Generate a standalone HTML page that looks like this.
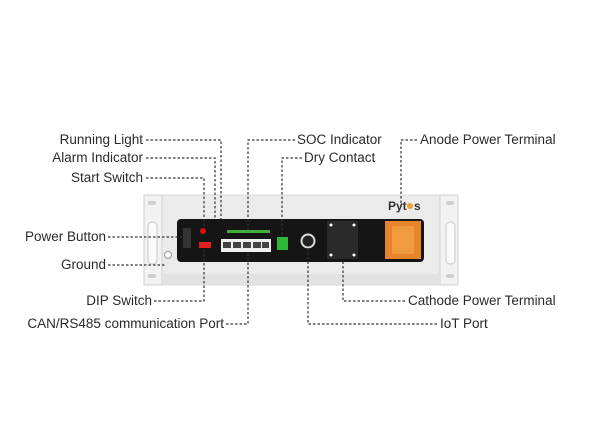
<!DOCTYPE html>
<html><head><style>
html,body{margin:0;padding:0;background:#fff;width:600px;height:448px;overflow:hidden}
svg{display:block}
text{font-family:"Liberation Sans",Arial,sans-serif;font-size:13.5px;fill:#2a2a2a}
.d{stroke:#333;stroke-width:1.2;stroke-dasharray:2.5 2;fill:none}
</style></head><body>
<svg width="600" height="448" viewBox="0 0 600 448">
<rect x="144" y="195" width="314" height="90" fill="#ebebeb" stroke="#d8d8d8"/>
<rect x="144" y="195" width="18" height="90" fill="#f2f2f2" stroke="#d0d0d0"/>
<rect x="440" y="195" width="18" height="90" fill="#f2f2f2" stroke="#d0d0d0"/>
<rect x="148" y="201" width="8" height="4" rx="2" fill="#cfcfcf"/>
<rect x="148" y="274" width="8" height="4" rx="2" fill="#cfcfcf"/>
<rect x="446" y="201" width="8" height="4" rx="2" fill="#cfcfcf"/>
<rect x="446" y="274" width="8" height="4" rx="2" fill="#cfcfcf"/>
<rect x="148" y="222" width="9" height="42" rx="4" fill="#fafafa" stroke="#c8c8c8"/>
<rect x="446" y="222" width="9" height="42" rx="4" fill="#fafafa" stroke="#c8c8c8"/>
<rect x="162" y="274" width="278" height="10" fill="#e2e2e2"/>
<circle cx="168" cy="255" r="3.5" fill="#fff" stroke="#999"/>
<text x="388" y="210" style="font-size:12px;font-weight:bold;fill:#333">Pyt</text>
<circle cx="410" cy="206" r="3" fill="#e8a23c"/>
<text x="414" y="210" style="font-size:12px;font-weight:bold;fill:#333">s</text>
<rect x="177" y="219" width="247" height="43" rx="4" fill="#151515"/>
<rect x="183" y="228" width="8" height="20" fill="#333"/>
<circle cx="203" cy="231" r="3" fill="#d11"/>
<rect x="199" y="242" width="12" height="6" fill="#e02020"/>
<rect x="227" y="230" width="43" height="3" fill="#3fae3f"/>
<rect x="221" y="239" width="50" height="13" fill="#f0f0f0"/>
<rect x="223" y="242" width="8" height="6" fill="#444"/><rect x="233" y="242" width="8" height="6" fill="#444"/><rect x="243" y="242" width="8" height="6" fill="#444"/><rect x="253" y="242" width="8" height="6" fill="#444"/><rect x="262" y="242" width="7" height="6" fill="#444"/>
<rect x="277" y="237" width="11" height="13" fill="#2db83a"/>
<circle cx="308" cy="241" r="6.5" fill="#222" stroke="#ddd" stroke-width="2"/>
<rect x="327" y="221" width="31" height="38" fill="#2a2a2a"/>
<circle cx="331" cy="225" r="1.5" fill="#fff"/><circle cx="354" cy="225" r="1.5" fill="#fff"/><circle cx="331" cy="255" r="1.5" fill="#fff"/><circle cx="354" cy="255" r="1.5" fill="#fff"/>
<rect x="385" y="221" width="36" height="38" fill="#e8852b"/>
<rect x="392" y="226" width="22" height="28" fill="#f29a3e"/>
<path class="d" d="M146 140H221V219"/>
<path class="d" d="M146 158H215V219"/>
<path class="d" d="M146 178H204V228"/>
<path class="d" d="M108 237H183"/>
<path class="d" d="M108 265H166"/>
<path class="d" d="M154 301H204V248"/>
<path class="d" d="M226 324H248V252"/>
<path class="d" d="M295 140H248V230"/>
<path class="d" d="M302 158H282V237"/>
<path class="d" d="M417 140H401V206"/>
<path class="d" d="M405 301H343V262"/>
<path class="d" d="M437 324H308V248"/>
<text x="143" y="144" text-anchor="end">Running Light</text>
<text x="143" y="162" text-anchor="end">Alarm Indicator</text>
<text x="143" y="182" text-anchor="end">Start Switch</text>
<text x="106" y="241" text-anchor="end">Power Button</text>
<text x="106" y="269" text-anchor="end">Ground</text>
<text x="152" y="305" text-anchor="end">DIP Switch</text>
<text x="224" y="328" text-anchor="end">CAN/RS485 communication Port</text>
<text x="297" y="144">SOC Indicator</text>
<text x="304" y="162">Dry Contact</text>
<text x="420" y="144">Anode Power Terminal</text>
<text x="408" y="305">Cathode Power Terminal</text>
<text x="440" y="328">IoT Port</text>
</svg>
</body></html>
